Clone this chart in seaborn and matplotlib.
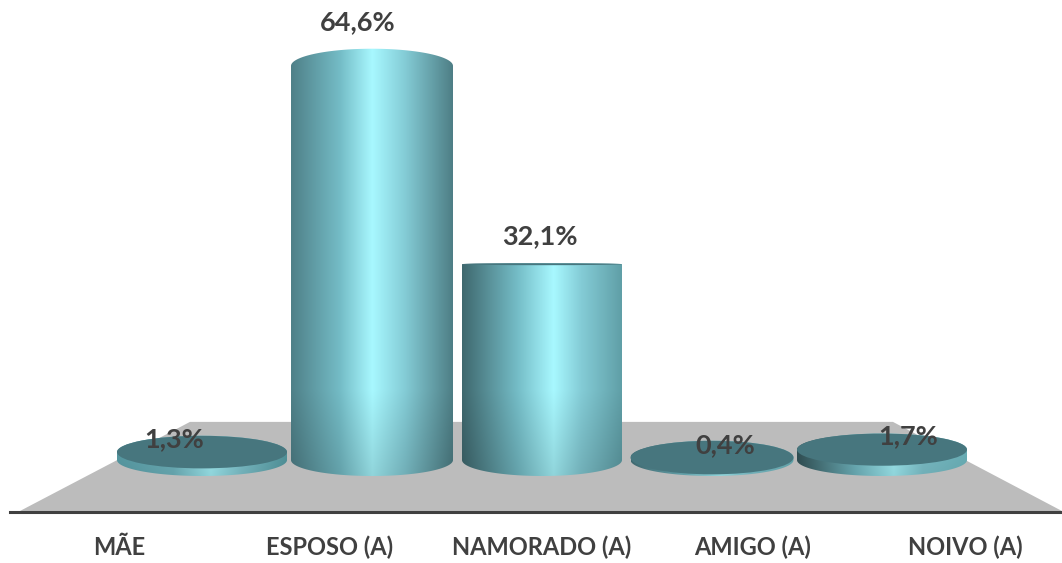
import numpy as np
import pandas as pd
import matplotlib
matplotlib.use("Agg")
import matplotlib.pyplot as plt
from matplotlib.colors import LinearSegmentedColormap
from matplotlib.patches import Ellipse, Polygon
import seaborn as sns

# Chart data
categories = ["MÃE", "ESPOSO (A)", "NAMORADO (A)", "AMIGO (A)", "NOIVO (A)"]
percentages = [1.3, 64.6, 32.1, 0.4, 1.7]

# Layout, in pixels at 100 dpi
FIG_W, FIG_H = 1062, 563
AXIS_LEFT, AXIS_Y = 10, 512
ZERO_Y = 460            # row of the cylinder base centre
PX_PER_UNIT = 6.1
CATEGORY_STEP = 170
FIRST_CENTRE = 202
bar_widths_px = [170, 162, 160, 163, 170]
label_offsets_px = [(-28, 13), (-14, 44), (-2, 28), (13, 12.5), (26, 13.5)]

# Perspective: the ellipse flattens as a top nears the eye level
EYE_LEVEL = 32.1
BASE_RY_PX = 16
TOP_RY_PX = 17

# Shading of each cylinder side: left edge, highlight position, right edge
shading = [
    ("#5fa8b2", 0.55, "#58a0a8"),
    ("#4f8088", 0.50, "#4d7d84"),
    ("#3f686e", 0.57, "#5f9ea6"),
    ("#47767e", 0.55, "#6fb8c0"),
    ("#35565b", 0.57, "#74c0c8"),
]
HIGHLIGHT = "#a8f8ff"
CAP_COLOR = "#47767e"
FLOOR_COLOR = "#bcbcbc"
TEXT_COLOR = "#404040"

sns.set_theme(style="white")
plt.rcParams["font.family"] = ["Lato", "DejaVu Sans"]

fig = plt.figure(figsize=(FIG_W / 100, FIG_H / 100), dpi=100, facecolor="white")
ax = fig.add_axes([AXIS_LEFT / FIG_W, (FIG_H - AXIS_Y) / FIG_H,
                   (FIG_W - AXIS_LEFT) / FIG_W, AXIS_Y / FIG_H])

df = pd.DataFrame({"categoria": categories, "percentual": percentages})
sns.barplot(data=df, x="categoria", y="percentual", color="#6fb8c0",
            saturation=1, width=0.95, ax=ax)

xlim = ((AXIS_LEFT - FIRST_CENTRE) / CATEGORY_STEP, (FIG_W - FIRST_CENTRE) / CATEGORY_STEP)
ylim = ((ZERO_Y - AXIS_Y) / PX_PER_UNIT, ZERO_Y / PX_PER_UNIT)

# Grey floor behind the cylinders, in axes fractions
ax.add_patch(Polygon([(0.0095, 0.002), (0.9999, 0.002), (0.8393, 0.176), (0.1711, 0.176)],
                     closed=True, transform=ax.transAxes, facecolor=FLOOR_COLOR,
                     edgecolor="none", zorder=0.5))

theta = np.linspace(0, 2 * np.pi, 361)
for i, (patch, value) in enumerate(zip(ax.patches, percentages)):
    half_w = bar_widths_px[i] / CATEGORY_STEP / 2
    patch.set_x(i - half_w)
    patch.set_width(2 * half_w)
    patch.set_visible(False)

    ry_base = BASE_RY_PX / PX_PER_UNIT
    ry_top = max(TOP_RY_PX * abs(1 - value / EYE_LEVEL), 1.0) / PX_PER_UNIT

    # Outline: upper arc on the top level, lower arc on the base level
    xs = i + half_w * np.cos(theta)
    ys = np.where(theta <= np.pi, value + ry_top * np.sin(theta), ry_base * np.sin(theta))

    # Side shading, dimmed a little toward the floor
    left, peak, right = shading[i]
    cmap = LinearSegmentedColormap.from_list(
        f"side{i}",
        [(0, left), (peak * 0.6, "#74bcc6"), (peak, HIGHLIGHT),
         (peak + (1 - peak) * 0.4, "#84ccd6"), (1, right)])
    y_low, y_high = -ry_base, value + ry_top
    rows = np.linspace(y_high, y_low, 256)
    rgb = cmap(np.linspace(0, 1, 256))[:, :3][None, :, :]
    fade = np.clip(0.86 + 0.14 * (rows + 2.5) / 14, 0.86, 1.0)[:, None, None]
    im = ax.imshow(rgb * fade, extent=(i - half_w, i + half_w, y_low, y_high),
                   aspect="auto", interpolation="bilinear", zorder=2)
    outline = Polygon(np.column_stack([xs, ys]), closed=True, transform=ax.transData)
    im.set_clip_path(outline)

    # Tops below the eye level show their dark upper face
    if value <= EYE_LEVEL:
        ax.add_patch(Ellipse((i, value), 2 * half_w, 2 * ry_top, facecolor=CAP_COLOR,
                             edgecolor="none", zorder=3))

    text = f"{value:.1f}%".replace(".", ",")
    ax.annotate(text, xy=(i, value), xytext=label_offsets_px[i], textcoords="offset pixels",
                ha="center", va="center", fontsize=19.5, fontweight="bold",
                color=TEXT_COLOR, zorder=4)

ax.set_xlim(*xlim)
ax.set_ylim(*ylim)

# Category labels are spread wider than the cylinders
label_px = np.array([119, 330, 542, 753, 965])
ax.set_xticks((label_px - FIRST_CENTRE) / CATEGORY_STEP, categories)
ax.set_yticks([])
ax.set_xlabel("")
ax.set_ylabel("")
ax.tick_params(axis="x", length=0, pad=17, labelsize=17, labelcolor=TEXT_COLOR)
for tick in ax.get_xticklabels():
    tick.set_fontweight("bold")

for side in ("top", "left", "right"):
    ax.spines[side].set_visible(False)
ax.spines["bottom"].set_color(TEXT_COLOR)
ax.spines["bottom"].set_linewidth(2.2)
ax.patch.set_alpha(0)

fig.savefig("out.png", dpi=100, facecolor="white")
